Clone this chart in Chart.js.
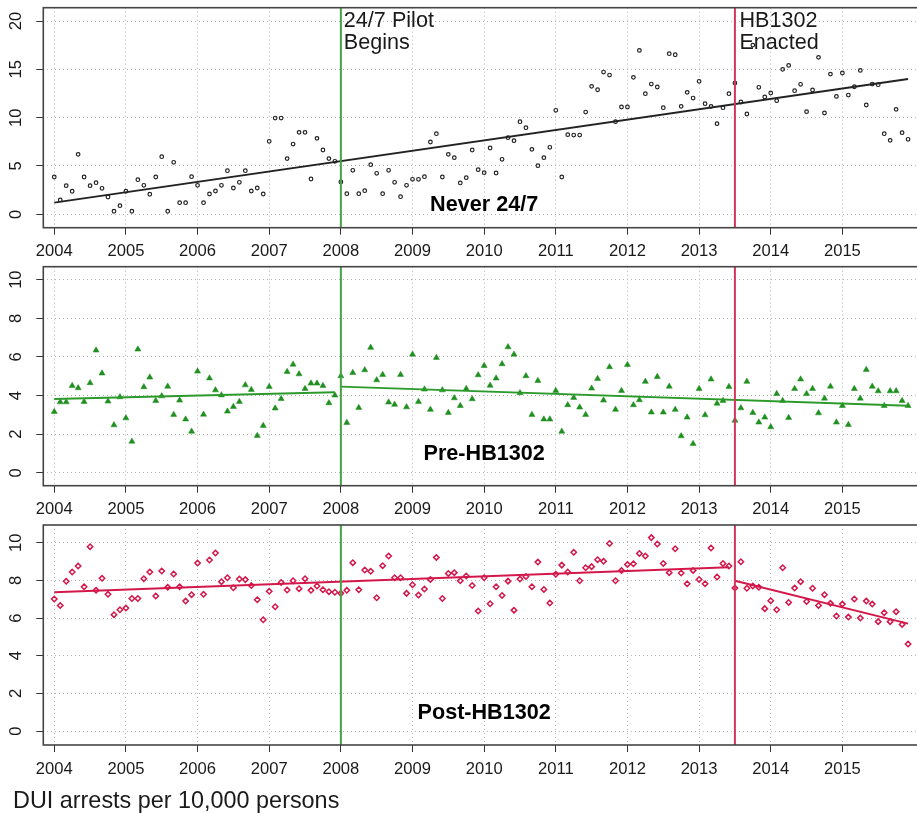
<!DOCTYPE html>
<html>
<head>
<meta charset="utf-8">
<script src="https://cdn.jsdelivr.net/npm/chart.js@4.4.1/dist/chart.umd.min.js"></script>
<style>
  html, body { margin: 0; padding: 0; background: #fff; overflow: hidden; width: 917px; height: 813px; }
  canvas { position: absolute; left: 0; }
  #caption { position: absolute; left: 13px; top: 788px; font: 23.4px "Liberation Sans", Arial, sans-serif;
             color: #1a1a1a; line-height: 24px; white-space: nowrap; }
</style>
</head>
<body>
<canvas id="never" width="935" height="265" style="top:0px"></canvas>
<canvas id="pre" width="935" height="265" style="top:258px"></canvas>
<canvas id="post" width="935" height="290" style="top:516px"></canvas>
<div id="caption">DUI arrests per 10,000 persons</div>
<script>
// Monthly DUI arrest rates per 10,000 persons, Jan 2004 - Dec 2015
const startYear = 2004;
const yearTicks = [2004, 2005, 2006, 2007, 2008, 2009, 2010, 2011, 2012, 2013, 2014, 2015];
const yearLabels = ["2004", "2005", "2006", "2007", "2008", "2009", "2010", "2011", "2012", "2013", "2014", "2015"];

const never247 = [
  3.86, 1.48, 2.96, 2.38, 6.20, 3.86, 2.96, 3.27, 2.69, 1.79, 0.31, 0.89,
  2.38, 0.31, 3.58, 3.00, 2.07, 3.86, 5.96, 0.31, 5.38, 1.20, 1.20, 3.89,
  3.00, 1.20, 2.10, 2.41, 3.00, 4.51, 2.72, 3.31, 4.51, 2.41, 2.72, 2.10,
  7.55, 9.96, 9.96, 5.76, 7.27, 8.48, 8.48, 3.65, 7.86, 6.65, 5.76, 5.48,
  3.34, 2.13, 4.55, 2.13, 2.44, 5.13, 4.24, 2.13, 4.55, 3.31, 1.82, 3.00,
  3.62, 3.62, 3.89, 7.48, 8.34, 3.86, 6.20, 5.86, 3.24, 3.79, 6.65, 4.62,
  4.31, 6.86, 4.27, 5.69, 7.93, 7.62, 9.58, 8.96, 6.72, 5.03, 5.86, 6.93,
  10.76, 3.86, 8.24, 8.20, 8.20, 10.58, 13.24, 12.89, 14.72, 14.41, 9.58, 11.10,
  11.10, 14.17, 16.96, 12.48, 13.48, 13.17, 11.03, 16.62, 16.51, 11.17, 12.62, 12.03,
  13.76, 11.45, 11.17, 9.38, 11.03, 12.48, 13.58, 11.62, 10.38, 17.51, 13.14, 12.14,
  12.55, 11.76, 15.00, 15.41, 12.79, 13.45, 10.62, 12.86, 16.24, 10.48, 14.51, 12.20,
  14.62, 12.34, 13.20, 14.89, 11.31, 13.48, 13.41, 8.34, 7.65, 10.86, 8.45, 7.76
];

const preHB1302 = [
  3.16, 3.66, 3.66, 4.51, 4.39, 3.68, 4.65, 6.34, 5.15, 3.70, 2.47, 3.92,
  2.83, 1.62, 6.39, 4.44, 4.94, 3.73, 3.97, 4.47, 3.01, 3.75, 2.77, 2.14,
  5.25, 3.02, 4.90, 4.28, 4.02, 3.18, 3.42, 3.68, 4.54, 4.30, 1.92, 2.44,
  4.46, 3.34, 3.83, 5.23, 5.61, 5.11, 4.35, 4.63, 4.63, 4.51, 3.61, 4.01,
  5.01, 2.59, 5.18, 3.37, 5.32, 6.48, 4.80, 5.08, 3.65, 3.53, 5.08, 3.40,
  6.13, 3.68, 4.32, 3.27, 5.96, 4.28, 3.11, 3.87, 3.47, 4.35, 3.82, 5.06,
  5.54, 4.52, 4.89, 5.63, 6.51, 6.13, 4.13, 5.01, 3.01, 4.77, 2.77, 2.77,
  4.25, 2.14, 3.51, 3.89, 3.39, 3.01, 4.37, 4.87, 3.75, 5.48, 3.27, 4.25,
  5.59, 3.51, 3.77, 4.72, 3.13, 4.97, 3.13, 4.47, 3.27, 1.90, 2.87, 1.50,
  4.35, 2.99, 4.84, 3.59, 3.73, 4.46, 2.71, 3.35, 4.72, 3.11, 2.61, 2.87,
  2.37, 4.09, 3.73, 2.85, 4.35, 4.84, 4.09, 4.35, 3.09, 3.85, 4.47, 2.61,
  3.47, 2.49, 4.35, 3.85, 5.34, 4.47, 4.23, 3.47, 4.23, 4.23, 3.73, 3.47
];

const postHB1302 = [
  7.01, 6.67, 7.95, 8.44, 8.76, 7.66, 9.79, 7.47, 8.11, 7.26, 6.18, 6.44,
  6.53, 7.04, 7.04, 8.09, 8.44, 7.17, 8.50, 7.63, 8.34, 7.66, 6.90, 7.24,
  8.92, 7.26, 9.08, 9.45, 7.93, 8.14, 7.61, 8.07, 8.04, 7.73, 6.97, 5.91,
  7.42, 6.60, 7.89, 7.49, 7.98, 7.56, 8.09, 7.47, 7.70, 7.50, 7.40, 7.37,
  7.31, 7.47, 8.94, 7.50, 8.55, 8.48, 7.08, 8.78, 9.29, 8.14, 8.14, 7.31,
  7.77, 7.22, 7.54, 8.05, 9.22, 7.04, 8.37, 8.41, 7.98, 8.23, 7.73, 6.37,
  8.14, 6.76, 7.66, 7.20, 7.96, 6.42, 8.07, 8.21, 7.66, 8.97, 7.52, 6.80,
  8.32, 8.81, 8.44, 9.49, 7.98, 8.67, 8.73, 9.10, 9.01, 9.96, 7.98, 8.52,
  8.84, 8.88, 9.43, 9.29, 10.27, 9.93, 8.90, 8.41, 9.68, 8.39, 7.82, 8.53,
  8.05, 7.82, 9.72, 8.18, 8.90, 8.76, 7.59, 8.99, 7.58, 7.70, 7.63, 6.50,
  6.92, 6.44, 8.67, 6.83, 7.59, 7.93, 6.88, 7.58, 6.67, 7.24, 6.78, 6.11,
  6.74, 6.05, 7.01, 6.00, 6.90, 6.74, 5.81, 6.28, 5.81, 6.34, 5.66, 4.62
];

// Fitted trend segments: [startYear, startValue, endYear, endValue]
const neverTrend = [[2004, 1.20, 2015.917, 14.00]];
const preTrend = [[2004, 3.82, 2007.917, 4.17], [2008, 4.46, 2015.917, 3.47]];
const postTrend = [[2004, 7.37, 2013.417, 8.70], [2013.5, 7.98, 2015.917, 5.70]];

// Policy events
const eventYears = [2008, 2013.5];
const eventNames = [["24/7 Pilot", "Begins"], ["HB1302", "Enacted"]];
const eventColors = ["#45a245", "#d3365c"];

const never247Ticks = [0, 5, 10, 15, 20];
const never247TickLabels = ["0", "5", "10", "15", "20"];
const panelTicks = [0, 2, 4, 6, 8, 10];
const panelTickLabels = ["0", "2", "4", "6", "8", "10"];

const FONT = '"Liberation Sans", Arial, sans-serif';
const INK = '#1a1a1a';

function monthly(values) {
  return values.map((v, i) => ({ x: startYear + i / 12, y: v }));
}

function trendSets(segments, color) {
  return segments.map(s => ({
    type: 'scatter',
    data: [{ x: s[0], y: s[1] }, { x: s[2], y: s[3] }],
    showLine: true,
    borderColor: color,
    borderWidth: 1.9,
    pointRadius: 0,
    order: 0
  }));
}

// scales keep their place exactly: no extra room for edge labels
function noEdgePadding(s) {
  s.paddingTop = 0; s.paddingBottom = 0; s.paddingLeft = 0; s.paddingRight = 0;
}

const decor = {
  id: 'decor',
  afterDatasetsDraw(chart, args, opts) {
    const { ctx, chartArea: a, scales: { x, y } } = chart;
    ctx.save();
    // policy event lines
    eventYears.forEach((yr, i) => {
      const px = x.getPixelForValue(yr);
      ctx.strokeStyle = eventColors[i];
      ctx.lineWidth = 2;
      ctx.beginPath();
      ctx.moveTo(px, a.top);
      ctx.lineTo(px, a.bottom);
      ctx.stroke();
      if (opts.eventText) {
        ctx.fillStyle = INK;
        ctx.font = '21.6px ' + FONT;
        ctx.textAlign = 'left';
        ctx.textBaseline = 'middle';
        const dx = i === 0 ? 3 : 4.5;
        ctx.fillText(eventNames[i][0], px + dx, a.top + 13.5);
        ctx.fillText(eventNames[i][1], px + dx, a.top + 35.5);
      }
    });
    // panel title
    ctx.fillStyle = '#000';
    ctx.font = 'bold 21.6px ' + FONT;
    ctx.textAlign = 'center';
    ctx.textBaseline = 'middle';
    ctx.fillText(opts.title, (a.left + a.right) / 2, y.getPixelForValue(0.95));
    // plot frame
    ctx.strokeStyle = '#454545';
    ctx.lineWidth = 1.6;
    ctx.strokeRect(a.left, a.top, a.right - a.left, a.bottom - a.top);
    ctx.restore();
  }
};

function makePanel(id, p) {
  new Chart(document.getElementById(id), {
    type: 'scatter',
    data: {
      datasets: [
        {
          data: monthly(p.values),
          pointStyle: p.pointStyle,
          pointRadius: p.radius,
          pointBorderWidth: p.pointBorder,
          pointBorderColor: p.pointColor,
          pointBackgroundColor: p.pointFill,
          order: 1
        },
        ...trendSets(p.trend, p.lineColor)
      ]
    },
    options: {
      responsive: false,
      animation: false,
      events: [],
      layout: { padding: { top: p.padTop, right: 10, left: 0, bottom: 0 } },
      plugins: { legend: { display: false }, tooltip: { enabled: false }, decor: { title: p.title, eventText: p.eventText } },
      scales: {
        x: {
          type: 'linear',
          min: 2003.847,
          max: 2016.153,
          afterBuildTicks: s => { s.ticks = yearTicks.map(v => ({ value: v })); },
          afterFit: s => { s.height = p.xAxisHeight; noEdgePadding(s); },
          ticks: {
            autoSkip: false, maxRotation: 0, minRotation: 0, padding: 7,
            color: INK, font: { family: FONT, size: 16.6 },
            callback: (v, i) => yearLabels[i]
          },
          grid: { color: '#b5b5b5', lineWidth: 1, tickLength: 7, tickColor: '#333', tickWidth: 1 },
          border: { display: false, dash: [1, 3] }
        },
        y: {
          min: p.yMin,
          max: p.yMax,
          afterBuildTicks: s => { s.ticks = p.ticks.map(v => ({ value: v })); },
          afterFit: s => { s.width = 43.3; noEdgePadding(s); },
          ticks: {
            autoSkip: false, minRotation: 90, maxRotation: 90, crossAlign: 'center', padding: 11,
            color: INK, font: { family: FONT, size: 16.6 },
            callback: (v, i) => p.tickLabels[i]
          },
          grid: { color: '#b5b5b5', lineWidth: 1, tickLength: 7, tickColor: '#333', tickWidth: 1 },
          border: { display: false, dash: [1, 3] }
        }
      }
    },
    plugins: [decor]
  });
}

makePanel('never', {
  values: never247, trend: neverTrend, title: 'Never 24/7', eventText: true,
  pointStyle: 'circle', radius: 1.8, pointBorder: 1.2, pointColor: '#222', pointFill: 'rgba(255,255,255,0)',
  lineColor: '#222', yMin: -1.39, yMax: 21.38, ticks: never247Ticks, tickLabels: never247TickLabels,
  padTop: 7.7, xAxisHeight: 265 - 227.7
});

makePanel('pre', {
  values: preHB1302, trend: preTrend, title: 'Pre-HB1302', eventText: false,
  pointStyle: 'triangle', radius: 3.5, pointBorder: 0.5, pointColor: '#1f8f1f', pointFill: '#1f8f1f',
  lineColor: '#2b9a2b', yMin: -0.67, yMax: 10.67, ticks: panelTicks, tickLabels: panelTickLabels,
  padTop: 8.7, xAxisHeight: 265 - 227.7
});

makePanel('post', {
  values: postHB1302, trend: postTrend, title: 'Post-HB1302', eventText: false,
  pointStyle: 'rectRot', radius: 2.7, pointBorder: 1.5, pointColor: '#d3174a', pointFill: 'rgba(255,255,255,0)',
  lineColor: '#d3174a', yMin: -0.74, yMax: 10.94, ticks: panelTicks, tickLabels: panelTickLabels,
  padTop: 9, xAxisHeight: 290 - 229
});
</script>
</body>
</html>
